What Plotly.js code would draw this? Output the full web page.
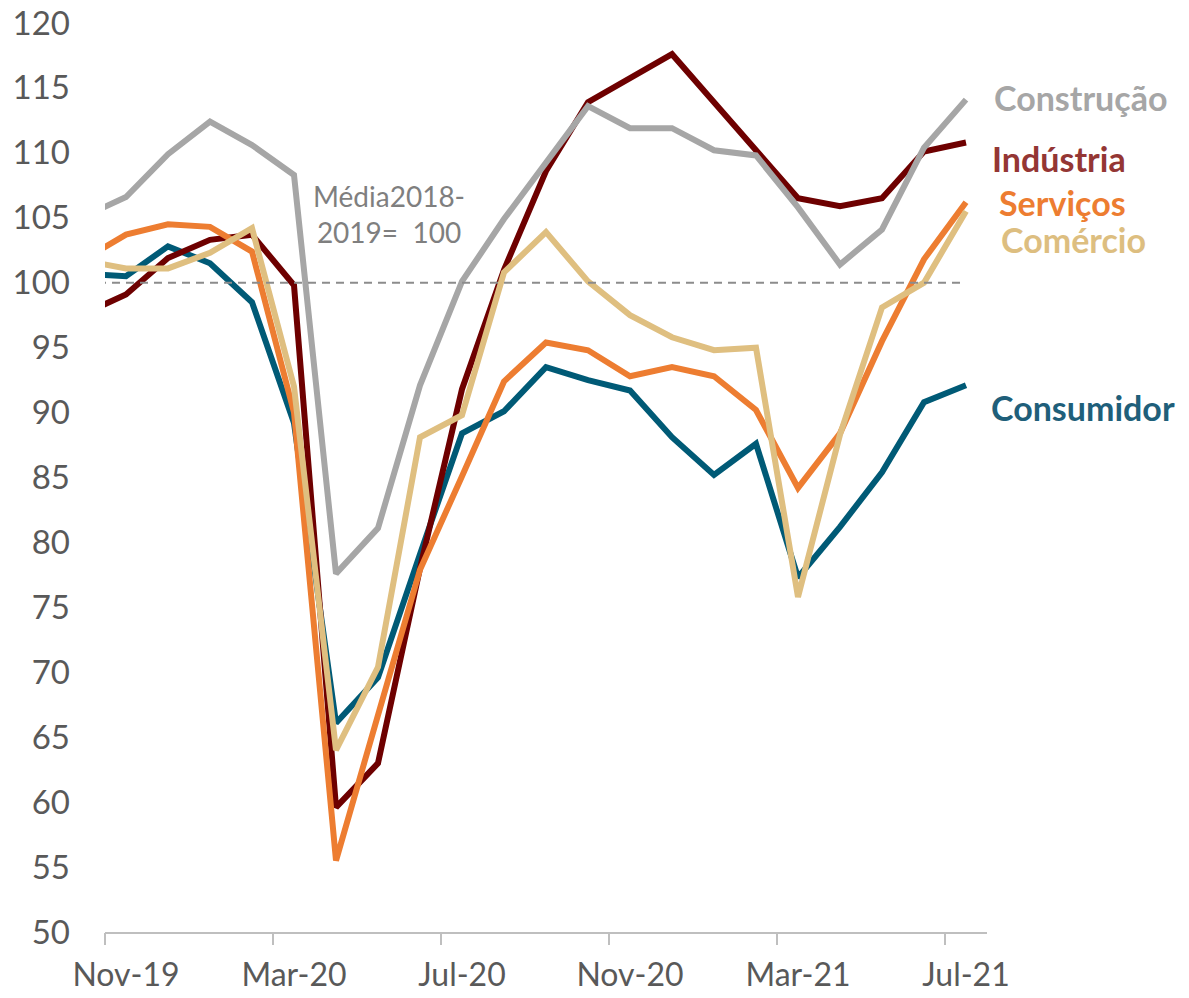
<!DOCTYPE html>
<html>
<head>
<meta charset="utf-8">
<script src="https://cdn.plot.ly/plotly-3.0.1.min.js"></script>
<style>
  html, body { margin: 0; padding: 0; background: #ffffff; }
  #chart { width: 1189px; height: 998px; }
</style>
</head>
<body>
<div id="chart"></div>
<script>
// meses (Oct-19 fica fora da área, só para a linha entrar pela esquerda)
var months = ['Oct-19', 'Nov-19', 'Dec-19', 'Jan-20', 'Feb-20', 'Mar-20', 'Apr-20', 'May-20', 'Jun-20',
              'Jul-20', 'Aug-20', 'Sep-20', 'Oct-20', 'Nov-20', 'Dec-20', 'Jan-21', 'Feb-21', 'Mar-21',
              'Apr-21', 'May-21', 'Jun-21', 'Jul-21'];

var consumidor = [100.7, 100.5, 102.8, 101.5, 98.5, 89.2, 66.1, 69.6, 79.1, 88.4, 90.1,
                  93.5, 92.5, 91.7, 88.1, 85.2, 87.6, 77.3, 81.2, 85.4, 90.8, 92.1];
var industria  = [97.6, 99.1, 101.9, 103.3, 103.7, 99.8, 59.6, 63.0, 78.0, 91.8, 101.0,
                  108.6, 113.9, 115.8, 117.6, 113.9, 110.2, 106.5, 105.9, 106.5, 110.1, 110.8];
var servicos   = [101.8, 103.7, 104.5, 104.3, 102.4, 90.0, 55.5, 66.5, 77.9, 85.1, 92.4,
                  95.4, 94.8, 92.8, 93.5, 92.8, 90.2, 84.2, 88.4, 95.5, 101.8, 106.2];
var comercio   = [101.7, 101.1, 101.1, 102.3, 104.2, 92.0, 64.0, 70.4, 88.1, 89.8, 100.8,
                  103.9, 100.1, 97.5, 95.8, 94.8, 95.0, 75.8, 88.3, 98.1, 100.0, 105.5];
var construcao = [105.1, 106.6, 109.9, 112.4, 110.6, 108.3, 77.6, 81.1, 92.1, 100.1, 104.9,
                  109.2, 113.6, 111.9, 111.9, 110.2, 109.8, 105.8, 101.4, 104.1, 110.4, 114.1];
var media = months.map(function() { return 100; });

var labelIdx = [1, 5, 9, 13, 17, 21];
var xs = months.map(function(m, i) { return i; });
var font = 'Lato, "Open Sans", sans-serif';

function serie(name, y, color) {
    return {
        x: xs, y: y, type: 'scatter', mode: 'lines', name: name,
        line: { color: color, width: 6 },
        hoverinfo: 'skip'
    };
}

var data = [
    {
        x: xs, y: media, type: 'scatter', mode: 'lines', xaxis: 'x2',
        line: { color: '#8C8C8C', width: 2, dash: '8px,6px' },
        hoverinfo: 'skip'
    },
    serie('Consumidor', consumidor, '#005A76'),
    serie('Indústria', industria, '#6E0000'),
    serie('Serviços', servicos, '#ED7D31'),
    serie('Comércio', comercio, '#DFBF80'),
    serie('Construção', construcao, '#A6A6A6')
];

var last = months.length - 1;
function rotulo(text, y, color, shift) {
    return {
        x: last, y: y, xref: 'x', yref: 'y', text: '<b>' + text + '</b>',
        showarrow: false, xanchor: 'left', yanchor: 'middle', xshift: shift,
        font: { family: font, size: 34, color: color }
    };
}

var layout = {
    width: 1189,
    height: 998,
    margin: { l: 105, r: 202, t: 23, b: 66 },
    showlegend: false,
    paper_bgcolor: '#ffffff',
    plot_bgcolor: '#ffffff',
    font: { family: font, color: '#595959' },
    xaxis: {
        type: 'linear',
        range: [0.5, 21.5],
        tickvals: labelIdx,
        ticktext: labelIdx.map(function(i) { return months[i]; }),
        ticks: '',
        ticklabelstandoff: 14,
        tickfont: { size: 32, color: '#595959' },
        showgrid: false,
        zeroline: false,
        showline: true,
        linecolor: '#BFBFBF',
        linewidth: 1.5
    },
    xaxis2: {
        type: 'linear',
        overlaying: 'x',
        anchor: 'y',
        side: 'bottom',
        range: [0.5, 21.5],
        tickvals: labelIdx.map(function(i) { return i - 0.5; }),
        ticks: 'outside',
        ticklen: 12,
        tickwidth: 1.5,
        tickcolor: '#BFBFBF',
        showticklabels: false,
        showgrid: false,
        zeroline: false,
        showline: false
    },
    yaxis: {
        range: [50, 120],
        dtick: 5,
        ticks: '',
        ticklabelstandoff: 34,
        tickfont: { size: 33, color: '#595959' },
        showgrid: false,
        zeroline: false,
        showline: false
    },
    annotations: [
        {
            x: 7.25, y: 105.3, xref: 'x', yref: 'y',
            text: 'Média2018-<br>2019=&nbsp;&nbsp;100',
            showarrow: false, xanchor: 'center', yanchor: 'middle',
            font: { family: font, size: 28, color: '#7F7F7F' }
        },
        rotulo('Construção', 114.3, '#A6A6A6', 26),
        rotulo('Indústria', 109.6, '#943634', 24),
        rotulo('Serviços', 106.2, '#ED7D31', 31),
        rotulo('Comércio', 103.3, '#DDBE80', 33),
        rotulo('Consumidor', 90.4, '#1F5F7A', 23)
    ]
};

Plotly.newPlot('chart', data, layout, { displayModeBar: false, staticPlot: true });
</script>
</body>
</html>
